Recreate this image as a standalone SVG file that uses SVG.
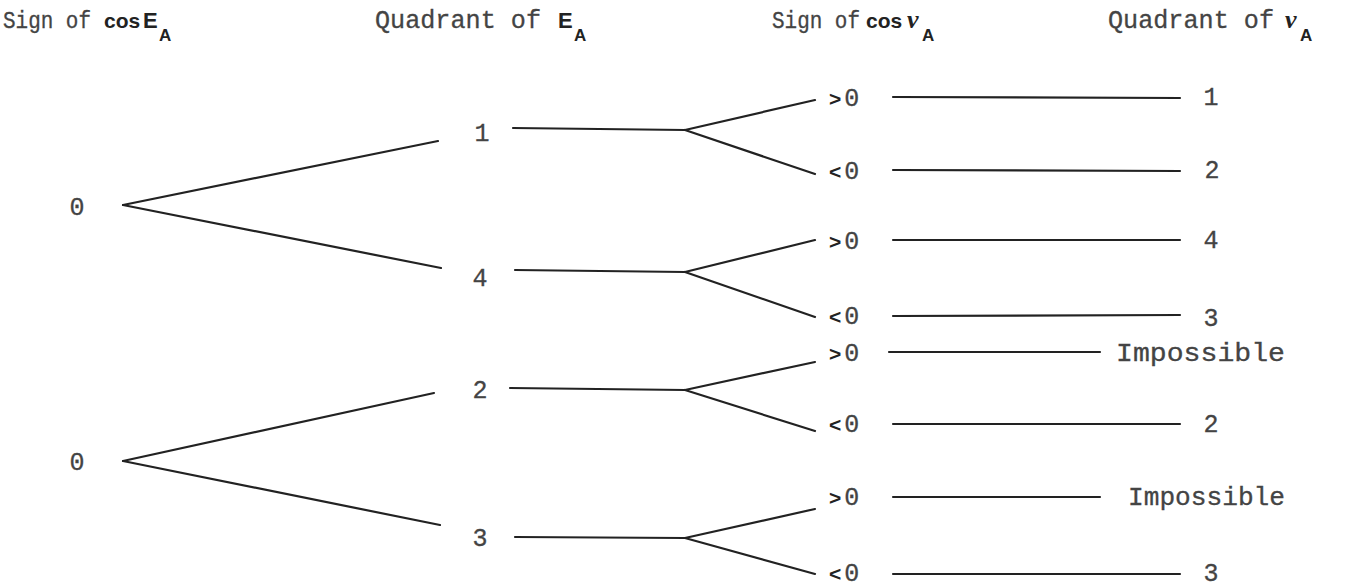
<svg xmlns="http://www.w3.org/2000/svg" width="1347" height="587" viewBox="0 0 1347 587">
<style>
.t{font-family:"Liberation Mono","DejaVu Sans Mono",monospace;font-size:25px;fill:#444;stroke:#444;stroke-width:0.3}
.h{font-size:23px}
.b{font-family:"Liberation Sans","DejaVu Sans",sans-serif;font-weight:bold;fill:#222}
.nu{font-family:"Liberation Serif","DejaVu Serif",serif;font-weight:bold;font-style:italic;fill:#222}
.c{text-anchor:middle}
.s{font-family:"Liberation Sans","DejaVu Sans",sans-serif;font-weight:bold;font-size:21px;fill:#222}
line{stroke:#222;stroke-width:2.2;stroke-linecap:round}
</style>
<rect width="1347" height="587" fill="#fff"/>
<g id="headers">
<text class="t h" x="3" y="28" textLength="88" lengthAdjust="spacingAndGlyphs">Sign of</text>
<text class="b" x="104" y="28" font-size="21">cos</text>
<text class="b" x="143" y="28" font-size="22">E</text>
<text class="b" x="159" y="41" font-size="17">A</text>
<text class="t" x="375" y="28" textLength="166" lengthAdjust="spacingAndGlyphs">Quadrant of</text>
<text class="b" x="558" y="28" font-size="22">E</text>
<text class="b" x="574" y="41" font-size="17">A</text>
<text class="t h" x="772" y="28" textLength="88" lengthAdjust="spacingAndGlyphs">Sign of</text>
<text class="b" x="866" y="28" font-size="21">cos</text>
<text class="nu" x="907" y="28" font-size="26">ν</text>
<text class="b" x="922" y="41" font-size="17">A</text>
<text class="t" x="1108" y="28" textLength="166" lengthAdjust="spacingAndGlyphs">Quadrant of</text>
<text class="nu" x="1285" y="28" font-size="26">ν</text>
<text class="b" x="1300" y="41" font-size="17">A</text>
</g>
<g id="connectors">
<line x1="123" y1="205" x2="438" y2="141"/>
<line x1="123" y1="205" x2="441" y2="268"/>
<line x1="123" y1="461" x2="434" y2="393"/>
<line x1="123" y1="461" x2="440" y2="525"/>
<line x1="513" y1="128" x2="685" y2="130"/>
<line x1="515" y1="270" x2="685" y2="272"/>
<line x1="510" y1="388" x2="685" y2="390"/>
<line x1="515" y1="537" x2="685" y2="538"/>
<line x1="685" y1="130" x2="815" y2="100"/>
<line x1="685" y1="130" x2="815" y2="174"/>
<line x1="685" y1="272" x2="815" y2="240"/>
<line x1="685" y1="272" x2="815" y2="317"/>
<line x1="685" y1="390" x2="815" y2="362"/>
<line x1="685" y1="390" x2="815" y2="431"/>
<line x1="685" y1="538" x2="815" y2="509"/>
<line x1="685" y1="538" x2="815" y2="574"/>
<line x1="893" y1="97" x2="1180" y2="98"/>
<line x1="893" y1="170" x2="1180" y2="171"/>
<line x1="893" y1="240" x2="1180" y2="240"/>
<line x1="893" y1="316" x2="1180" y2="315"/>
<line x1="889" y1="352" x2="1100" y2="352"/>
<line x1="893" y1="424" x2="1180" y2="424"/>
<line x1="893" y1="497" x2="1100" y2="497"/>
<line x1="893" y1="574" x2="1180" y2="574"/>
</g>
<g id="root1"><text class="t c" x="77" y="215">0</text></g>
<g id="root2"><text class="t c" x="77" y="470">0</text></g>
<g id="qE1"><text class="t c" x="482" y="141">1</text></g>
<g id="qE4"><text class="t c" x="480" y="286">4</text></g>
<g id="qE2"><text class="t c" x="480" y="398">2</text></g>
<g id="qE3"><text class="t c" x="480" y="546">3</text></g>
<g id="s1"><text x="829" y="106"><tspan class="s">&gt;</tspan><tspan class="t" dx="3">0</tspan></text></g>
<g id="s2"><text x="829" y="179"><tspan class="s">&lt;</tspan><tspan class="t" dx="3">0</tspan></text></g>
<g id="s3"><text x="829" y="249"><tspan class="s">&gt;</tspan><tspan class="t" dx="3">0</tspan></text></g>
<g id="s4"><text x="829" y="324"><tspan class="s">&lt;</tspan><tspan class="t" dx="3">0</tspan></text></g>
<g id="s5"><text x="829" y="361"><tspan class="s">&gt;</tspan><tspan class="t" dx="3">0</tspan></text></g>
<g id="s6"><text x="829" y="432"><tspan class="s">&lt;</tspan><tspan class="t" dx="3">0</tspan></text></g>
<g id="s7"><text x="829" y="505"><tspan class="s">&gt;</tspan><tspan class="t" dx="3">0</tspan></text></g>
<g id="s8"><text x="829" y="581"><tspan class="s">&lt;</tspan><tspan class="t" dx="3">0</tspan></text></g>
<g id="r1"><text class="t c" x="1211" y="105">1</text></g>
<g id="r2"><text class="t c" x="1212" y="178">2</text></g>
<g id="r3"><text class="t c" x="1211" y="248">4</text></g>
<g id="r4"><text class="t c" x="1211" y="326">3</text></g>
<g id="r5"><text class="t" x="1116" y="361" textLength="169" lengthAdjust="spacingAndGlyphs">Impossible</text></g>
<g id="r6"><text class="t c" x="1211" y="432">2</text></g>
<g id="r7"><text class="t" x="1128" y="505" textLength="157" lengthAdjust="spacingAndGlyphs">Impossible</text></g>
<g id="r8"><text class="t c" x="1211" y="581">3</text></g>
</svg>
